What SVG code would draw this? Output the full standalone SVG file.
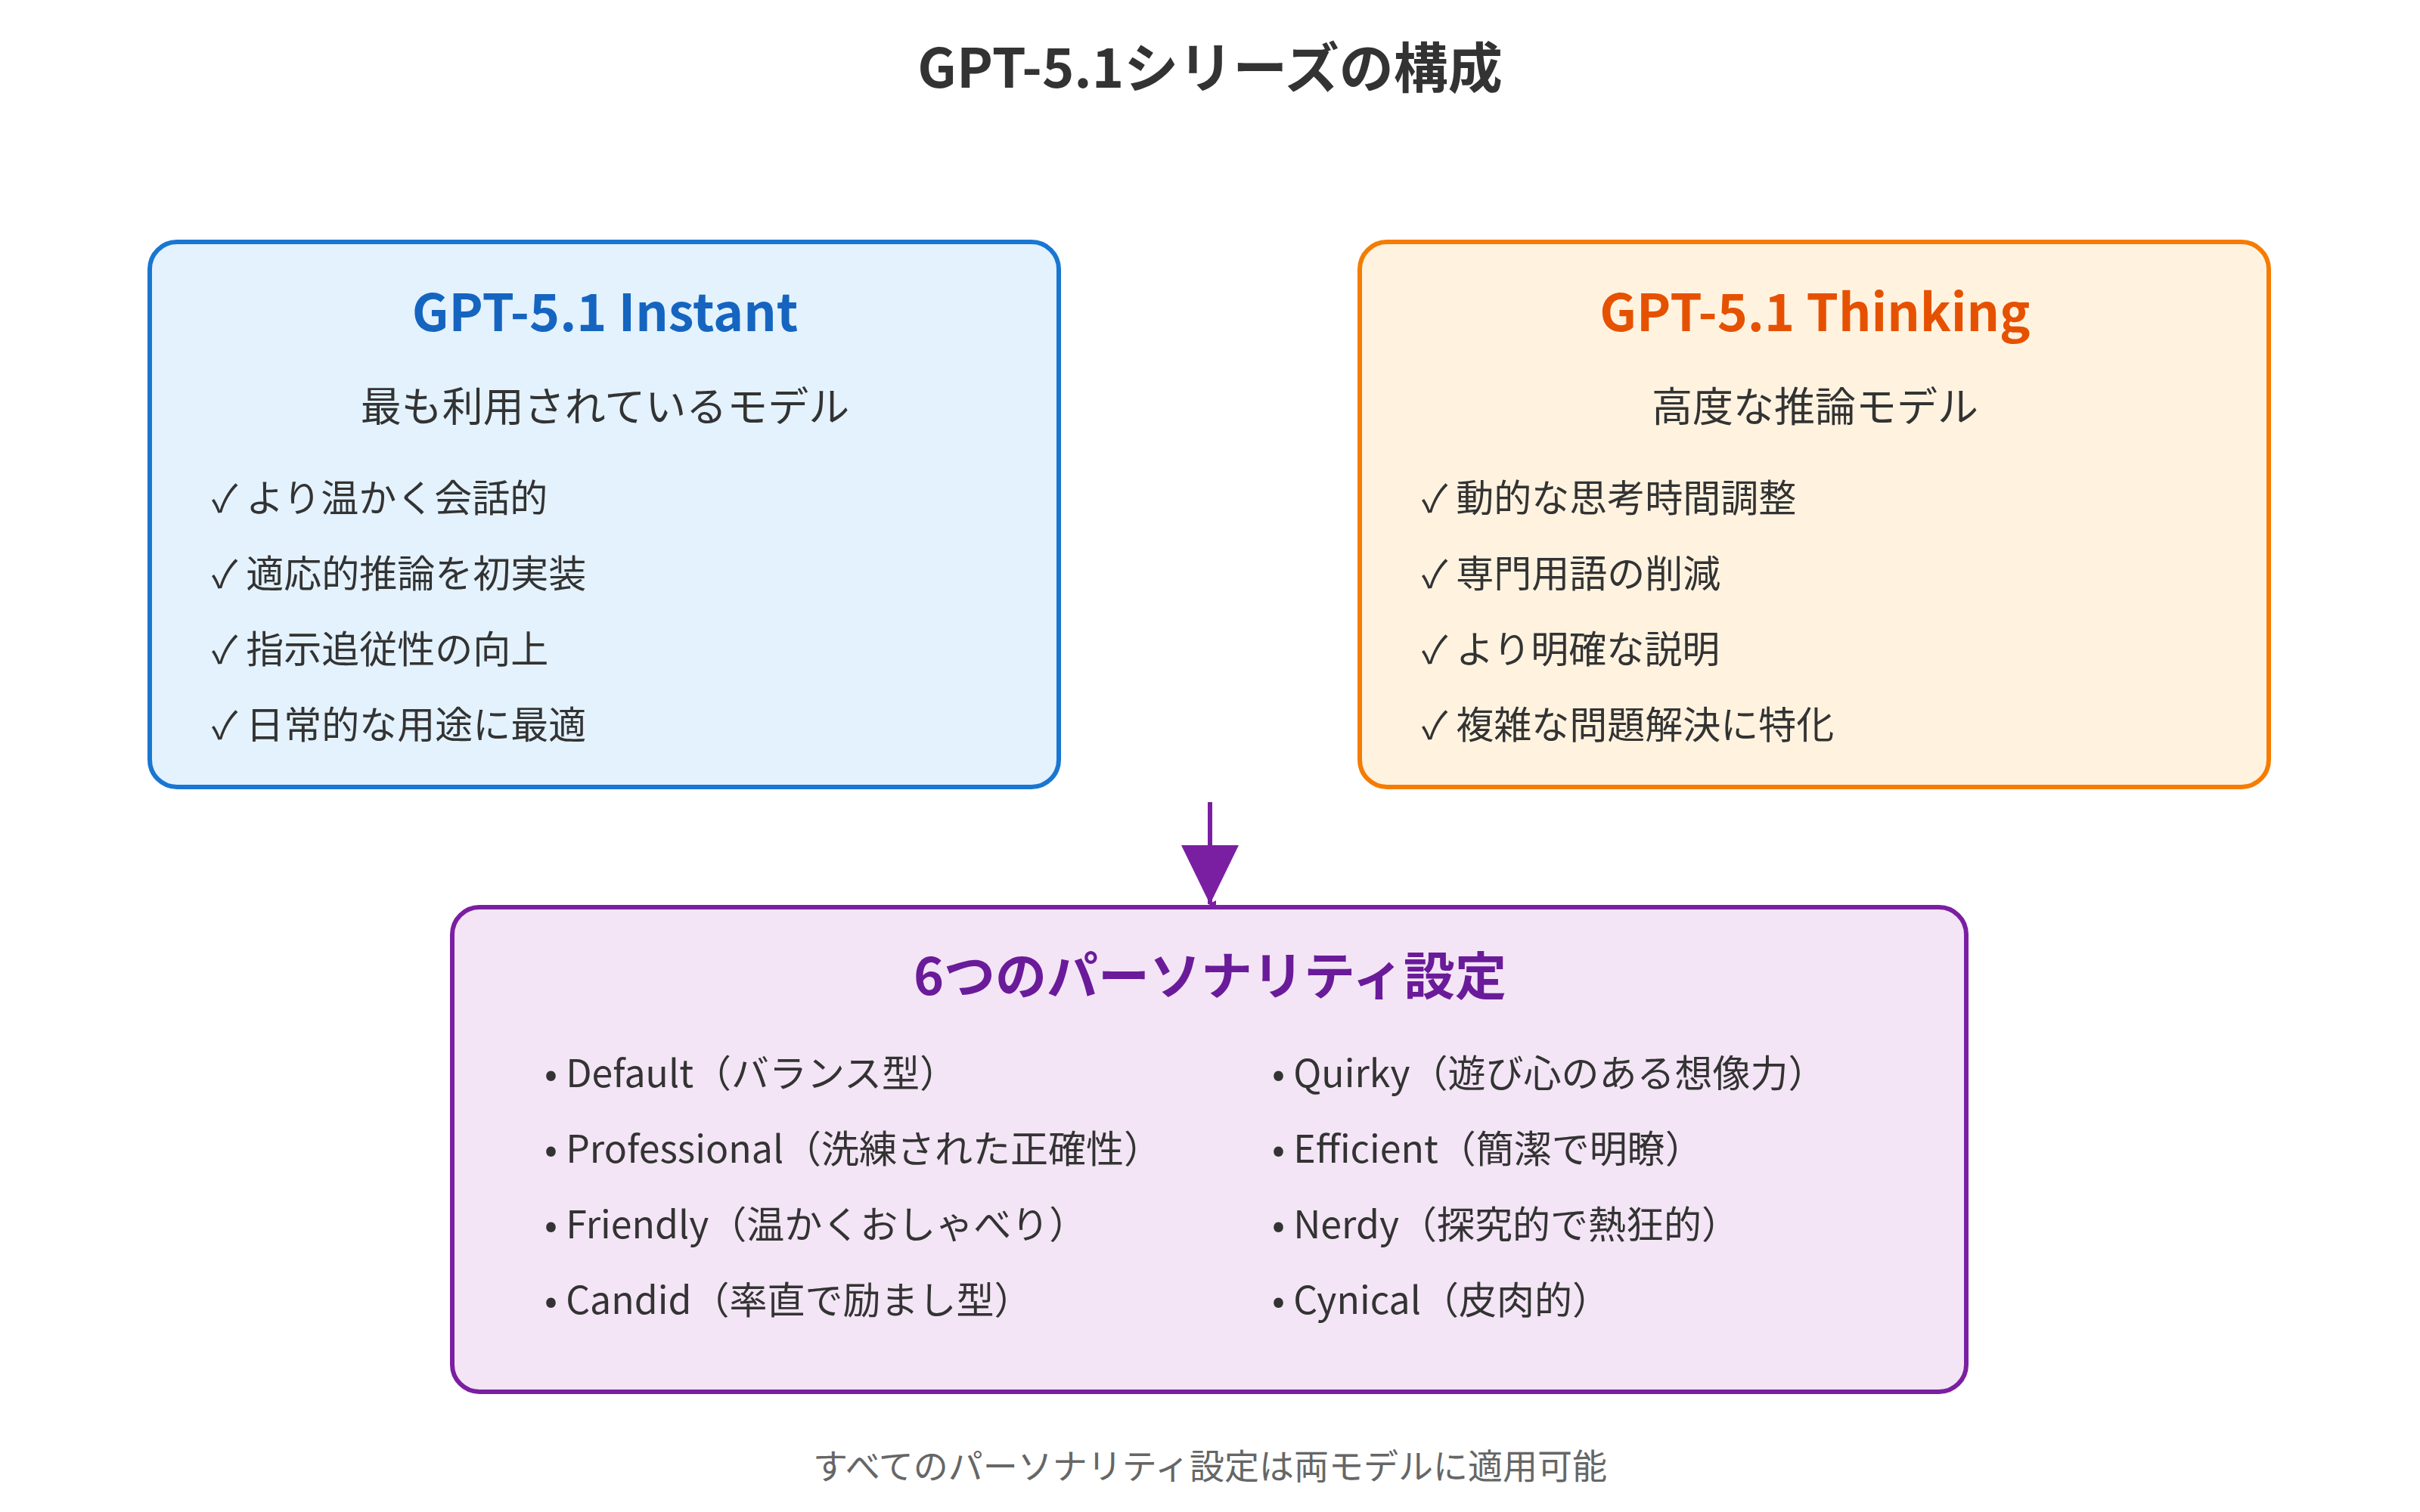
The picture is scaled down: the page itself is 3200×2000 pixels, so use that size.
<svg xmlns="http://www.w3.org/2000/svg" width="3200" height="2000" viewBox="0 0 3200 2000">
<defs>
<style>
text{font-family:"Noto Sans CJK JP","Noto Sans",sans-serif;fill:#333}
.t{font-size:72px;font-weight:bold;text-anchor:middle}
.h{font-size:68px;font-weight:bold;text-anchor:middle}
.s{font-size:54px;text-anchor:middle}
.i{font-size:50px}
.f{font-size:46px;fill:#666;text-anchor:middle}
</style>
<marker id="ah" markerWidth="10" markerHeight="10" refX="5" refY="8" orient="auto" markerUnits="userSpaceOnUse" viewBox="0 0 10 10"><path d="M0,0L10,0L5,10z" fill="#7B1FA2"/></marker>
</defs>
<rect width="3200" height="2000" fill="#fff"/>
<text class="t" x="1600" y="116">GPT-5.1シリーズの構成</text>
<g id="instant">
<rect x="198" y="320" width="1202" height="721" rx="36" fill="#E3F2FD" stroke="#1976D2" stroke-width="6"/>
<text class="h" x="800" y="438" style="fill:#1565C0">GPT-5.1 Instant</text>
<text class="s" x="800" y="558">最も利用されているモデル</text>
<text class="i" x="280" y="677">✓ より温かく会話的</text>
<text class="i" x="280" y="777">✓ 適応的推論を初実装</text>
<text class="i" x="280" y="877">✓ 指示追従性の向上</text>
<text class="i" x="280" y="977">✓ 日常的な用途に最適</text>
</g>
<g id="thinking">
<rect x="1798" y="320" width="1202" height="721" rx="36" fill="#FFF3E0" stroke="#F57C00" stroke-width="6"/>
<text class="h" x="2400" y="438" style="fill:#E65100">GPT-5.1 Thinking</text>
<text class="s" x="2400" y="558">高度な推論モデル</text>
<text class="i" x="1880" y="677">✓ 動的な思考時間調整</text>
<text class="i" x="1880" y="777">✓ 専門用語の削減</text>
<text class="i" x="1880" y="877">✓ より明確な説明</text>
<text class="i" x="1880" y="977">✓ 複雑な問題解決に特化</text>
</g>
<g id="connectors">
<line x1="1600" y1="1061" x2="1600" y2="1196" stroke="#7B1FA2" stroke-width="6" marker-end="url(#ah)"/>
<path d="M1562,1118L1638,1118L1600,1196z" fill="#7B1FA2"/>
</g>
<g id="personality">
<rect x="598" y="1200" width="2002" height="641" rx="36" fill="#F3E5F5" stroke="#7B1FA2" stroke-width="6"/>
<text class="h" x="1600" y="1316" style="fill:#6A1B9A">6つのパーソナリティ設定</text>
<text class="i" x="720" y="1438">• Default（バランス型）</text>
<text class="i" x="720" y="1538">• Professional（洗練された正確性）</text>
<text class="i" x="720" y="1638">• Friendly（温かくおしゃべり）</text>
<text class="i" x="720" y="1738">• Candid（率直で励まし型）</text>
<text class="i" x="1682" y="1438">• Quirky（遊び心のある想像力）</text>
<text class="i" x="1682" y="1538">• Efficient（簡潔で明瞭）</text>
<text class="i" x="1682" y="1638">• Nerdy（探究的で熱狂的）</text>
<text class="i" x="1682" y="1738">• Cynical（皮肉的）</text>
</g>
<text class="f" x="1600" y="1956">すべてのパーソナリティ設定は両モデルに適用可能</text>
</svg>
